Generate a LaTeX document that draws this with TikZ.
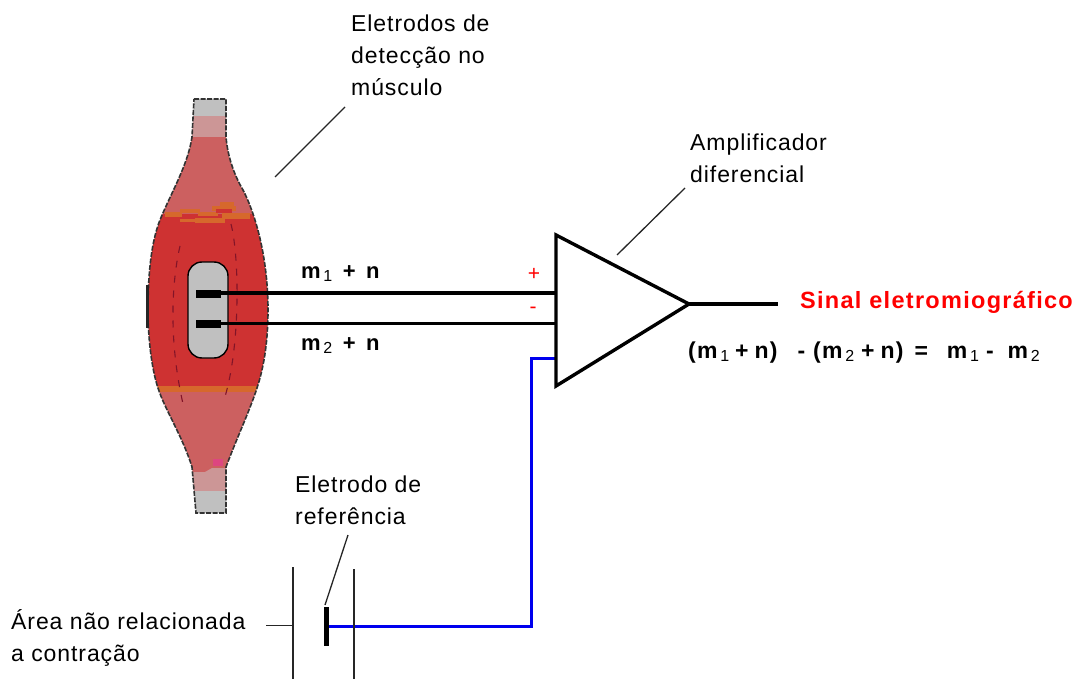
\documentclass[tikz,border=0pt]{standalone}
\usepackage{fontspec}
\setmainfont{Liberation Sans}
\newfontfamily\lblfont[LetterSpace=4]{Liberation Sans}
\newfontfamily\boldfont[LetterSpace=5.5,BoldFont={Liberation Sans Bold}]{Liberation Sans}
\newcommand{\sbs}[1]{\raisebox{-3pt}{\fontsize{16}{16}\selectfont\mdseries\,#1}}
\definecolor{mred}{RGB}{206,50,50}
\definecolor{mrose}{RGB}{204,96,96}
\definecolor{mpink}{RGB}{204,150,150}
\definecolor{mgrey}{RGB}{192,192,192}
\definecolor{morange}{RGB}{214,104,44}
\definecolor{mblue}{RGB}{0,0,238}
\definecolor{mdark}{RGB}{130,20,40}
\tikzset{
 lbl/.style={font=\fontsize{23}{32}\selectfont\lblfont,anchor=north west,inner sep=0pt,align=left},
 bold/.style={font=\fontsize{22}{24}\selectfont\boldfont\bfseries,inner sep=0pt,anchor=base west},
 wire/.style={line width=3.4pt,black},
 leader/.style={line width=1.3pt,black!85},
 sign/.style={red,font=\fontsize{21}{24}\selectfont,inner sep=0pt},
 fib/.style={line width=1.1pt,mdark,dash pattern=on 7pt off 8pt}
}
\newcommand{\musclepath}{(194,99) -- (226,99) -- (226,137) .. controls (228,160) and (236,178) .. (243,190) .. controls (252,207) and (268,250) .. (268,310) .. controls (268,345) and (263,370) .. (257,388) .. controls (250,410) and (236,440) .. (226,467) -- (226,513) -- (196,513) -- (192,467) .. controls (182,435) and (165,410) .. (158,388) .. controls (152,370) and (148,340) .. (148,310) .. controls (148,270) and (152,240) .. (160,220) .. controls (170,195) and (188,165) .. (192,137) -- cycle}
\begin{document}
\begin{tikzpicture}[x=1pt,y=-1pt]
\useasboundingbox (0,0) rectangle (1084,679);
\begin{scope}
\clip \musclepath;
\fill[mgrey] (140,90) rectangle (280,116);
\fill[mpink] (140,116) rectangle (280,137);
\fill[mrose] (140,137) rectangle (280,214);
\fill[mred] (140,214) rectangle (280,388);
\fill[morange] (165,212) rectangle (182,217);
\fill[morange] (180,209) rectangle (200,213);
\fill[morange] (180,219) rectangle (195,222);
\fill[morange] (195,218) rectangle (225,223);
\fill[morange] (198,212) rectangle (218,216);
\fill[morange] (212,206) rectangle (236,211);
\fill[morange] (220,202) rectangle (234,206);
\fill[morange] (222,213) rectangle (250,219);
\fill[mred] (216,209) rectangle (232,213);
\fill[morange] (140,386) rectangle (280,392);
\fill[mrose] (140,392) rectangle (280,472);
\fill[mpink] (140,472) -- (205,472) -- (212,468) -- (280,468) -- (280,491) -- (140,491) -- cycle;
\fill[mgrey] (140,491) rectangle (280,520);
\fill[magenta!50!mrose] (213,459) rectangle (223,466);
\end{scope}
\draw[line width=1.6pt,black!80,dash pattern=on 5pt off 1.5pt] \musclepath;
\draw[fib] (180,246) .. controls (170,290) and (170,350) .. (184,408);
\draw[fib] (231,224) .. controls (240,260) and (240,350) .. (224,400);
\fill[black!85] (145.5,285) rectangle (149,328);
\node[draw=black,line width=1.4pt,fill=mgrey,rounded corners=14pt,minimum width=40pt,minimum height=96pt,inner sep=0pt] (win) at (208,310) {};
\node[fill=black,minimum width=25pt,minimum height=8pt,inner sep=0pt] (e1) at (208.5,294) {};
\node[fill=black,minimum width=25pt,minimum height=8pt,inner sep=0pt] (e2) at (208.5,323.5) {};
\coordinate (a1) at (556,293);
\coordinate (a2) at (556,323.5);
\coordinate (a3) at (556,358);
\coordinate (aout) at (689,304);
\coordinate (sout) at (778,304);
\draw[wire] (e1.east|-a1) -- (a1);
\draw[wire] (e2.east|-a2) -- (a2);
\node[fill=black,minimum width=5pt,minimum height=39pt,inner sep=0pt] (ref) at (326.5,626.5) {};
\coordinate (bc) at (531,358);
\coordinate (bd) at (531,626.5);
\draw[line width=3pt,mblue] (a3) -- (bc) -- (bd) -- (ref.east);
\draw[line width=3.4pt,miter limit=10,fill=white] (556,235) -- (689,304) -- (556,386) -- cycle;
\draw[wire] (aout) -- (sout);
\coordinate (p1t) at (293,567); \coordinate (p1b) at (293,679);
\coordinate (p2t) at (354,569); \coordinate (p2b) at (354,679);
\coordinate (tick) at (266,625.5); \coordinate (tick2) at (293,625.5);
\draw[line width=1.5pt,black!85] (p1t) -- (p1b);
\draw[line width=1.5pt,black!85] (p2t) -- (p2b);
\draw[line width=1.5pt,black!85] (tick) -- (tick2);
\coordinate (l1a) at (275,177); \coordinate (l1b) at (345,107);
\draw[leader] (l1a) -- (l1b);
\coordinate (l2a) at (617,255); \coordinate (l2b) at (685,188);
\draw[leader] (l2a) -- (l2b);
\coordinate (l3a) at (325,605); \coordinate (l3b) at (348,535);
\draw[leader] (l3a) -- (l3b);
\node[lbl] (t1) at (351,15) {Eletrodos de\\detecção no\\músculo};
\node[lbl] (t2) at (690,134) {Amplificador\\diferencial};
\node[lbl] (t3) at (295,476) {Eletrodo de\\referência};
\node[lbl] (t4) at (11,609) {Área não relacionada\\a contração};
\node[bold] (m1) at (301,278) {m\sbs{1}\hspace{10.5pt}+\hspace{10.5pt}n};
\node[bold] (m2) at (301,350) {m\sbs{2}\hspace{10.5pt}+\hspace{10.5pt}n};
\node[sign] (plus) at (534,274) {+};
\node[sign] (minus) at (533,310) {-};
\node[bold,red] (sig) at (800,308) {\fontsize{23.5}{24}\selectfont Sinal eletromiográfico};
\node[bold] (eq) at (688,358) {\fontsize{23}{24}\selectfont (m\sbs{1}\hspace{6pt}+\hspace{6pt}n)\hspace{20pt}-\hspace{8pt}(m\sbs{2}\hspace{7pt}+\hspace{6pt}n)\hspace{11pt}=\hspace{19pt}m\sbs{1}\hspace{7pt}-\hspace{14pt}m\sbs{2}};
\end{tikzpicture}
\end{document}
